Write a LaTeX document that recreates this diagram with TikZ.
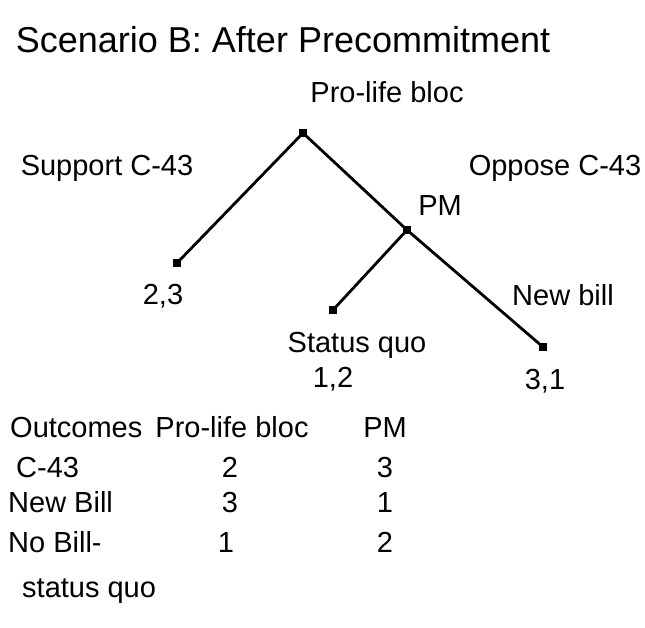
\documentclass[tikz,border=0pt]{standalone}
\usepackage{fontspec}
\setmainfont{Liberation Sans}
\usepackage{tikz}
\usetikzlibrary{positioning}
\tikzset{
    x=1pt, y=1pt,
    gamenode/.style={
        fill=black,
        inner sep=0pt,
        minimum size=8pt
    },
    move/.style={
        line width=2.8pt
    },
    hand/.style={
        font=\fontsize{29}{33}\selectfont,
        text height=21pt,
        text depth=6pt,
        inner sep=2pt
    },
    titletext/.style={
        font=\fontsize{36}{40}\selectfont,
        inner sep=2pt
    },
    cell/.style={
        hand,
        anchor=west
    }
}
\begin{document}
\begin{tikzpicture}
    \useasboundingbox (0,0) rectangle (645,628);

    % title and tree
    \node[titletext] (title) at (283,588) {Scenario B: After Precommitment};
    \node[hand] (bloc) at (387,533) {Pro-life bloc};

    \node[gamenode] (root) at (303,495) {};
    \node[gamenode] (pm) at (407,398) {};
    \node[gamenode] (leafc) at (177,365) {};
    \node[gamenode] (leafsq) at (333,318) {};
    \node[gamenode] (leafnb) at (543,281) {};

    \draw[move] (root.center) -- (leafc.center);
    \draw[move] (root.center) -- (pm.center);
    \draw[move] (pm.center) -- (leafsq.center);
    \draw[move] (pm.center) -- (leafnb.center);

    \node[hand] (support) at (107,460) {Support C-43};
    \node[hand] (oppose) at (555,460) {Oppose C-43};
    \node[hand] (pmlabel) at (440,420) {PM};
    \node[hand] (payc) at (163,331) {2,3};
    \node[hand] (sqlabel) at (357,283) {Status quo};
    \node[hand] (paysq) at (333,248) {1,2};
    \node[hand] (nblabel) at (563,330) {New bill};
    \node[hand] (paynb) at (545,246) {3,1};

    % outcomes table
    \node[cell] (hout) at (8,198) {Outcomes};
    \node[hand] (hbloc) at (232,198) {Pro-life bloc};
    \node[hand] (hpm) at (385,198) {PM};

    \node[cell] (rc) at (14,158) {C-43};
    \node[hand] (rc1) at (230,158) {2};
    \node[hand] (rc2) at (385,158) {3};

    \node[cell] (rnb) at (6,123) {New Bill};
    \node[hand] (rnb1) at (230,123) {3};
    \node[hand] (rnb2) at (385,123) {1};

    \node[cell] (rno) at (6,83) {No Bill-};
    \node[hand] (rno1) at (226,83) {1};
    \node[hand] (rno2) at (385,83) {2};
    \node[cell] (rsq) at (20,38) {status quo};
\end{tikzpicture}
\end{document}
